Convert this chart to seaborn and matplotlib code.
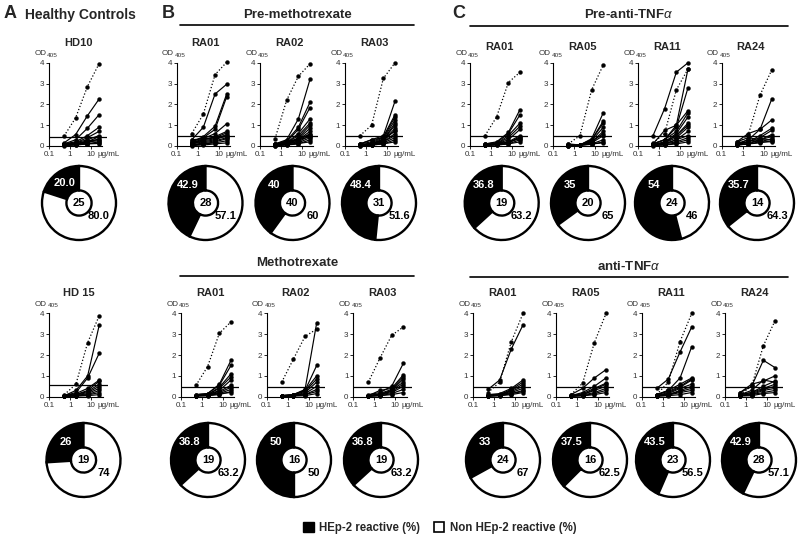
import numpy as np
import pandas as pd
import matplotlib
matplotlib.use("Agg")
import matplotlib.pyplot as plt
from matplotlib.patches import Patch
from matplotlib.lines import Line2D
from matplotlib.ticker import NullLocator
import seaborn as sns

sns.set_theme(style="ticks")
plt.rcParams["font.family"] = ["Liberation Sans", "DejaVu Sans"]
plt.rcParams["mathtext.fontset"] = "custom"
plt.rcParams["mathtext.rm"] = "Liberation Sans"
plt.rcParams["mathtext.it"] = "Liberation Sans:italic"
plt.rcParams["mathtext.bf"] = "Liberation Sans:bold"

# ---------------- data ----------------
conc = [0.52, 1.85, 6.7, 24]          # ug/mL

# --- top row ---
hd10_ctrl = [0.48, 1.35, 2.85, 3.95]
hd10_mabs = [[0.15, 0.55, 1.45, 2.25], [0.1, 0.3, 0.85, 1.5], [0.1, 0.2, 0.5, 0.9],
             [0.1, 0.15, 0.4, 0.7], [0.1, 0.15, 0.3, 0.5], [0.05, 0.1, 0.2, 0.45],
             [0.05, 0.08, 0.15, 0.35], [0.05, 0.1, 0.25, 0.3], [0.02, 0.05, 0.1, 0.2],
             [0.1, 0.12, 0.2, 0.25], [0.05, 0.08, 0.12, 0.15], [0.03, 0.05, 0.1, 0.12]]

pmtx_ra01_ctrl = [0.6, 1.53, 3.43, 4.03]
pmtx_ra01_mabs = [[0.3, 0.9, 2.5, 2.97], [0.2, 0.45, 0.95, 2.5], [0.2, 0.4, 0.8, 2.37],
                  [0.15, 0.35, 0.6, 1.07], [0.15, 0.3, 0.45, 0.7], [0.1, 0.3, 0.4, 0.63],
                  [0.1, 0.25, 0.35, 0.55], [0.1, 0.2, 0.3, 0.5], [0.05, 0.15, 0.25, 0.4],
                  [0.05, 0.1, 0.2, 0.35], [0.05, 0.1, 0.15, 0.25], [0.02, 0.05, 0.1, 0.15],
                  [0.3, 0.35, 0.4, 0.45]]

pmtx_ra02_ctrl = [0.35, 2.2, 3.35, 3.95]
pmtx_ra02_mabs = [[0.1, 0.3, 1.3, 3.2], [0.1, 0.25, 0.9, 2.1], [0.05, 0.2, 0.8, 1.85],
                  [0.05, 0.15, 0.6, 1.3], [0.05, 0.15, 0.5, 1.1], [0.05, 0.1, 0.4, 1.0],
                  [0.05, 0.1, 0.35, 0.85], [0.05, 0.1, 0.3, 0.7], [0.03, 0.08, 0.25, 0.6],
                  [0.05, 0.1, 0.2, 0.5], [0.02, 0.05, 0.15, 0.4], [0.02, 0.05, 0.1, 0.3],
                  [0.05, 0.08, 0.12, 0.2], [0.1, 0.15, 0.3, 0.45], [0.1, 0.2, 0.35, 0.55]]

pmtx_ra03_ctrl = [0.5, 1.0, 3.25, 4.0]
pmtx_ra03_mabs = [[0.1, 0.3, 0.5, 2.15], [0.1, 0.2, 0.45, 1.5], [0.05, 0.15, 0.4, 1.4],
                  [0.05, 0.1, 0.35, 1.25], [0.05, 0.1, 0.3, 1.1], [0.05, 0.1, 0.3, 1.0],
                  [0.05, 0.1, 0.25, 0.85], [0.05, 0.1, 0.25, 0.75], [0.05, 0.08, 0.2, 0.6],
                  [0.03, 0.05, 0.2, 0.5], [0.03, 0.05, 0.15, 0.4], [0.02, 0.05, 0.1, 0.3],
                  [0.02, 0.05, 0.1, 0.2], [0.1, 0.3, 0.4, 0.7]]

ptnf_ra01_ctrl = [0.5, 1.4, 3.05, 3.55]
ptnf_ra01_mabs = [[0.1, 0.2, 0.65, 1.75], [0.1, 0.15, 0.6, 1.5], [0.05, 0.1, 0.5, 1.1],
                  [0.05, 0.1, 0.4, 0.95], [0.05, 0.1, 0.3, 0.8], [0.05, 0.08, 0.2, 0.5],
                  [0.05, 0.08, 0.15, 0.45], [0.05, 0.08, 0.15, 0.4], [0.03, 0.05, 0.1, 0.3],
                  [0.03, 0.05, 0.1, 0.2], [0.1, 0.15, 0.2, 0.35]]

ptnf_ra05_ctrl = [0.1, 0.5, 2.7, 3.9]
ptnf_ra05_mabs = [[0.05, 0.05, 0.35, 1.6], [0.05, 0.05, 0.3, 1.2], [0.05, 0.05, 0.3, 1.1],
                  [0.03, 0.05, 0.25, 0.9], [0.03, 0.05, 0.2, 0.7], [0.03, 0.05, 0.2, 0.6],
                  [0.02, 0.04, 0.15, 0.5], [0.02, 0.04, 0.1, 0.3], [0.02, 0.03, 0.08, 0.2],
                  [0.1, 0.05, 0.1, 0.15]]

ptnf_ra11_ctrl = [0.15, 0.6, 2.7, 3.7]
ptnf_ra11_mabs = [[0.5, 1.8, 3.55, 4.0], [0.1, 0.3, 1.0, 3.7], [0.1, 0.3, 0.9, 2.8],
                  [0.1, 0.75, 1.0, 1.7], [0.1, 0.3, 0.7, 1.6], [0.05, 0.2, 0.6, 1.4],
                  [0.05, 0.2, 0.5, 1.1], [0.05, 0.15, 0.5, 1.0], [0.05, 0.15, 0.4, 0.9],
                  [0.05, 0.1, 0.3, 0.7], [0.05, 0.1, 0.3, 0.5], [0.05, 0.1, 0.2, 0.4],
                  [0.03, 0.05, 0.15, 0.3], [0.02, 0.05, 0.1, 0.2]]

ptnf_ra24_ctrl = [0.1, 0.55, 2.45, 3.65]
ptnf_ra24_mabs = [[0.1, 0.3, 0.8, 2.25], [0.2, 0.6, 0.8, 1.25], [0.1, 0.2, 0.5, 0.85],
                  [0.1, 0.2, 0.4, 0.75], [0.1, 0.15, 0.3, 0.55], [0.05, 0.1, 0.3, 0.45],
                  [0.05, 0.1, 0.2, 0.35], [0.05, 0.1, 0.15, 0.25], [0.2, 0.4, 0.3, 0.3],
                  [0.1, 0.3, 0.2, 0.2]]

# --- bottom row ---
hd15_ctrl = [0.1, 0.6, 2.6, 3.9]
hd15_mabs = [[0.05, 0.3, 1.0, 3.45], [0.05, 0.2, 0.9, 2.1], [0.05, 0.15, 0.4, 0.8],
             [0.05, 0.1, 0.3, 0.75], [0.03, 0.1, 0.25, 0.6], [0.03, 0.08, 0.2, 0.5],
             [0.03, 0.05, 0.15, 0.4], [0.02, 0.05, 0.1, 0.3], [0.02, 0.04, 0.08, 0.2],
             [0.02, 0.03, 0.05, 0.1]]

mtx_ra01_ctrl = [0.55, 1.45, 3.05, 3.6]
mtx_ra01_mabs = [[0.1, 0.15, 0.6, 1.75], [0.1, 0.15, 0.55, 1.5], [0.05, 0.1, 0.45, 1.1],
                 [0.05, 0.1, 0.4, 0.95], [0.05, 0.1, 0.3, 0.8], [0.05, 0.1, 0.25, 0.55],
                 [0.05, 0.08, 0.2, 0.45], [0.03, 0.05, 0.15, 0.35], [0.03, 0.05, 0.1, 0.25],
                 [0.05, 0.1, 0.15, 0.2]]

mtx_ra02_ctrl = [0.7, 1.8, 2.9, 3.25]
mtx_ra02_mabs = [[0.05, 0.1, 0.35, 3.55], [0.05, 0.1, 0.3, 1.5], [0.05, 0.1, 0.3, 1.0],
                 [0.03, 0.08, 0.25, 0.85], [0.03, 0.05, 0.2, 0.7], [0.02, 0.05, 0.15, 0.5],
                 [0.02, 0.05, 0.1, 0.35], [0.02, 0.04, 0.1, 0.25], [0.02, 0.03, 0.05, 0.15]]

mtx_ra03_ctrl = [0.7, 1.85, 2.95, 3.35]
mtx_ra03_mabs = [[0.1, 0.2, 0.5, 1.6], [0.05, 0.3, 0.4, 1.05], [0.05, 0.15, 0.35, 0.95],
                 [0.05, 0.1, 0.3, 0.85], [0.05, 0.1, 0.3, 0.7], [0.03, 0.1, 0.25, 0.6],
                 [0.03, 0.08, 0.2, 0.5], [0.02, 0.05, 0.15, 0.35], [0.02, 0.05, 0.1, 0.2]]

tnf_ra01_ctrl = [0.2, 0.7, 2.65, 4.0]
tnf_ra01_mabs = [[0.35, 0.8, 2.3, 3.45], [0.1, 0.15, 0.4, 0.8], [0.05, 0.1, 0.35, 0.7],
                 [0.05, 0.1, 0.3, 0.6], [0.05, 0.1, 0.25, 0.5], [0.03, 0.08, 0.2, 0.4],
                 [0.03, 0.05, 0.15, 0.3], [0.02, 0.05, 0.1, 0.2], [0.1, 0.1, 0.15, 0.25]]

tnf_ra05_ctrl = [0.1, 0.65, 2.6, 4.0]
tnf_ra05_mabs = [[0.1, 0.4, 0.9, 1.3], [0.05, 0.2, 0.5, 0.9], [0.05, 0.15, 0.4, 0.65],
                 [0.05, 0.1, 0.35, 0.6], [0.03, 0.1, 0.3, 0.5], [0.03, 0.08, 0.2, 0.4],
                 [0.02, 0.05, 0.15, 0.3], [0.02, 0.04, 0.1, 0.2]]

tnf_ra11_ctrl = [0.1, 0.7, 2.65, 4.0]
tnf_ra11_mabs = [[0.4, 0.85, 2.15, 3.35], [0.1, 0.3, 0.9, 2.4], [0.1, 0.3, 0.6, 0.9],
                 [0.1, 0.25, 0.5, 0.85], [0.05, 0.2, 0.45, 0.8], [0.05, 0.15, 0.4, 0.6],
                 [0.05, 0.1, 0.3, 0.5], [0.05, 0.1, 0.25, 0.4], [0.03, 0.08, 0.2, 0.3],
                 [0.02, 0.05, 0.1, 0.2]]

tnf_ra24_ctrl = [0.1, 0.5, 2.45, 3.65]
tnf_ra24_mabs = [[0.2, 0.5, 1.75, 1.4], [0.2, 0.6, 0.75, 1.0], [0.1, 0.3, 0.8, 0.7],
                 [0.1, 0.2, 0.5, 0.75], [0.1, 0.2, 0.4, 0.6], [0.05, 0.15, 0.35, 0.5],
                 [0.05, 0.1, 0.3, 0.4], [0.05, 0.1, 0.2, 0.3], [0.03, 0.05, 0.15, 0.2]]

top_titles = ["HD10", "RA01", "RA02", "RA03", "RA01", "RA05", "RA11", "RA24"]
bottom_titles = ["HD 15", "RA01", "RA02", "RA03", "RA01", "RA05", "RA11", "RA24"]
top_ctrl = [hd10_ctrl, pmtx_ra01_ctrl, pmtx_ra02_ctrl, pmtx_ra03_ctrl,
            ptnf_ra01_ctrl, ptnf_ra05_ctrl, ptnf_ra11_ctrl, ptnf_ra24_ctrl]
top_mabs = [hd10_mabs, pmtx_ra01_mabs, pmtx_ra02_mabs, pmtx_ra03_mabs,
            ptnf_ra01_mabs, ptnf_ra05_mabs, ptnf_ra11_mabs, ptnf_ra24_mabs]
bottom_ctrl = [hd15_ctrl, mtx_ra01_ctrl, mtx_ra02_ctrl, mtx_ra03_ctrl,
               tnf_ra01_ctrl, tnf_ra05_ctrl, tnf_ra11_ctrl, tnf_ra24_ctrl]
bottom_mabs = [hd15_mabs, mtx_ra01_mabs, mtx_ra02_mabs, mtx_ra03_mabs,
               tnf_ra01_mabs, tnf_ra05_mabs, tnf_ra11_mabs, tnf_ra24_mabs]
top_cutoff = [0.43, 0.47, 0.47, 0.47, 0.46, 0.47, 0.47, 0.47]
bottom_cutoff = [0.55, 0.47, 0.47, 0.47, 0.47, 0.47, 0.47, 0.47]

# donut data
top_reactive = [20.0, 42.9, 40, 48.4, 36.8, 35, 54, 35.7]
top_reactive_lbl = ["20.0", "42.9", "40", "48.4", "36.8", "35", "54", "35.7"]
top_non_lbl = ["80.0", "57.1", "60", "51.6", "63.2", "65", "46", "64.3"]
top_n = [25, 28, 40, 31, 19, 20, 24, 14]
bottom_reactive = [26, 36.8, 50, 36.8, 33, 37.5, 43.5, 42.9]
bottom_reactive_lbl = ["26", "36.8", "50", "36.8", "33", "37.5", "43.5", "42.9"]
bottom_non_lbl = ["74", "63.2", "50", "63.2", "67", "62.5", "56.5", "57.1"]
bottom_n = [19, 19, 16, 19, 24, 16, 23, 28]

# ---------------- layout (pixels) ----------------
W, H = 800, 541
fig = plt.figure(figsize=(8, 5.41), dpi=100)

top_spine_x = [49, 176.7, 260, 345, 470, 553.3, 638, 721.7]
bottom_spine_x = [49.3, 181, 266.7, 353.3, 473, 556, 641.7, 725]
top_zero_y, bottom_zero_y = 146, 396.7
top_title_y = [43, 43, 43, 43, 47, 47, 47, 47]
bottom_title_y = 293
top_donut_x = [79, 205.5, 292.5, 379, 501.7, 588, 672, 757]
bottom_donut_x = [83.5, 208, 294, 381, 503, 590, 673, 759]
top_donut_y, bottom_donut_y = 203, 460

PPU = 20.8      # px per OD unit
PPD = 21.0      # px per decade
XMAX = 60
YTOP = 4.05
TICKC = "#333333"
TFS = 5.8


def line_panel(xs, y0, title, ty, ctrl, mabs, cutoff):
    w = PPD * np.log10(XMAX / 0.1)
    h = PPU * YTOP
    ax = fig.add_axes([xs / W, 1 - y0 / H, w / W, h / H])
    ax.set_xscale("log")
    rows = [(i, c, v) for i, vals in enumerate(mabs) for c, v in zip(conc, vals)]
    df = pd.DataFrame(rows, columns=["mab", "conc", "od"])
    sns.lineplot(data=df, x="conc", y="od", units="mab", estimator=None,
                 color="black", lw=0.85, marker="o", markersize=2.8,
                 mec="black", mew=0.3, clip_on=False, legend=False, ax=ax)
    dfc = pd.DataFrame({"conc": conc, "od": ctrl})
    sns.lineplot(data=dfc, x="conc", y="od", color="black", lw=0.9,
                 linestyle=":", marker="o", markersize=2.8, mec="black",
                 mew=0.3, clip_on=False, legend=False, ax=ax)
    ax.axhline(cutoff, color="black", lw=0.9)
    ax.set_xlim(0.1, XMAX)
    ax.set_ylim(0, YTOP)
    ax.set_xlabel("")
    ax.set_ylabel("")
    ax.set_xticks([0.1, 1, 10])
    ax.set_xticklabels(["0.1", "1", "10"])
    ax.xaxis.set_minor_locator(NullLocator())
    ax.set_yticks([0, 1, 2, 3, 4])
    ax.set_yticklabels(["0", "1", "2", "3", "4"])
    ax.tick_params(labelsize=TFS, length=2, width=0.6, pad=1.5,
                   labelcolor=TICKC, color="black")
    sns.despine(ax=ax)
    for s in ("left", "bottom"):
        ax.spines[s].set_linewidth(0.8)
        ax.spines[s].set_color("black")
    ax.spines["left"].set_bounds(0, 4)
    ax.spines["bottom"].set_bounds(0.1, 35)
    ax.annotate("\u00b5g/mL", xy=(20, 0), xycoords=("data", "axes fraction"),
                xytext=(0, -3.5), textcoords="offset points", ha="left", va="top",
                fontsize=TFS, color=TICKC)
    ax.annotate("OD", xy=(0, 1), xycoords="axes fraction",
                xytext=(-10.5, 5), textcoords="offset points", ha="left",
                va="baseline", fontsize=5.8, color=TICKC)
    ax.annotate("405", xy=(0, 1), xycoords="axes fraction",
                xytext=(-1.4, 3.6), textcoords="offset points", ha="left",
                va="baseline", fontsize=4.6, color=TICKC)
    fig.text((xs + w / 2) / W, 1 - ty / H, title, ha="center", va="center",
             fontsize=8, fontweight="bold")


def donut(cx, cy, pct, lbl_r, lbl_n, n):
    R = 37.0
    s = R * 1.06
    ax = fig.add_axes([(cx - s) / W, 1 - (cy + s) / H, 2 * s / W, 2 * s / H])
    ax.pie([pct, 100 - pct], colors=["black", "white"], startangle=90,
           counterclock=True, radius=1,
           wedgeprops=dict(width=0.66, edgecolor="black", linewidth=1.7))
    ax.set_xlim(-1.06, 1.06)
    ax.set_ylim(-1.06, 1.06)
    ax.set_aspect("equal")
    ax.axis("off")
    if pct < 25:
        ang = np.deg2rad(90 + 3.6 * pct / 2)
        lx, ly = 0.66 * np.cos(ang), 0.66 * np.sin(ang)
    else:
        lx, ly = -0.49, 0.5
    ax.text(lx, ly, lbl_r, color="white", ha="center", va="center",
            fontsize=8, fontweight="bold")
    ax.text(0.54, -0.35, lbl_n, color="black", ha="center", va="center",
            fontsize=8, fontweight="bold")
    ax.text(0, 0, str(n), color="black", ha="center", va="center",
            fontsize=8, fontweight="bold")


for i in range(8):
    line_panel(top_spine_x[i], top_zero_y, top_titles[i], top_title_y[i],
               top_ctrl[i], top_mabs[i], top_cutoff[i])
    line_panel(bottom_spine_x[i], bottom_zero_y, bottom_titles[i], bottom_title_y,
               bottom_ctrl[i], bottom_mabs[i], bottom_cutoff[i])
    donut(top_donut_x[i], top_donut_y, top_reactive[i], top_reactive_lbl[i],
          top_non_lbl[i], top_n[i])
    donut(bottom_donut_x[i], bottom_donut_y, bottom_reactive[i],
          bottom_reactive_lbl[i], bottom_non_lbl[i], bottom_n[i])


def ftext(x, y, s, **kw):
    fig.text(x / W, 1 - y / H, s, **kw)


def fline(x0, x1, y):
    fig.add_artist(Line2D([x0 / W, x1 / W], [1 - y / H, 1 - y / H],
                          color="black", lw=1.2, transform=fig.transFigure))


ftext(4, 14, "A", fontsize=13, fontweight="bold", ha="left", va="center")
ftext(25, 15, "Healthy Controls", fontsize=10, fontweight="bold", ha="left", va="center")
ftext(162, 13, "B", fontsize=13, fontweight="bold", ha="left", va="center")
ftext(452, 13, "C", fontsize=13, fontweight="bold", ha="left", va="center")
ftext(297, 15, "Pre-methotrexate", fontsize=9.5, fontweight="bold", ha="center", va="center")
fline(180, 414, 25)
ftext(629, 15, r"Pre-anti-TNF$\alpha$", fontsize=9.5, fontweight="bold", ha="center", va="center")
fline(470, 788, 26)
ftext(297, 263, "Methotrexate", fontsize=9.5, fontweight="bold", ha="center", va="center")
fline(180, 414, 276)
ftext(629, 267, r"anti-TNF$\alpha$", fontsize=9.5, fontweight="bold", ha="center", va="center")
fline(470, 788, 277)

handles = [Patch(facecolor="black", edgecolor="black", lw=1.0),
           Patch(facecolor="white", edgecolor="black", lw=1.2)]
fig.legend(handles, ["HEp-2 reactive (%)", "Non HEp-2 reactive (%)"],
           loc="center", bbox_to_anchor=(440 / W, 1 - 528 / H), ncol=2,
           frameon=False, prop=dict(weight="bold", size=8.3),
           handlelength=0.9, handleheight=0.9, handletextpad=0.5,
           columnspacing=1.2)

fig.savefig("out.png", dpi=100)
